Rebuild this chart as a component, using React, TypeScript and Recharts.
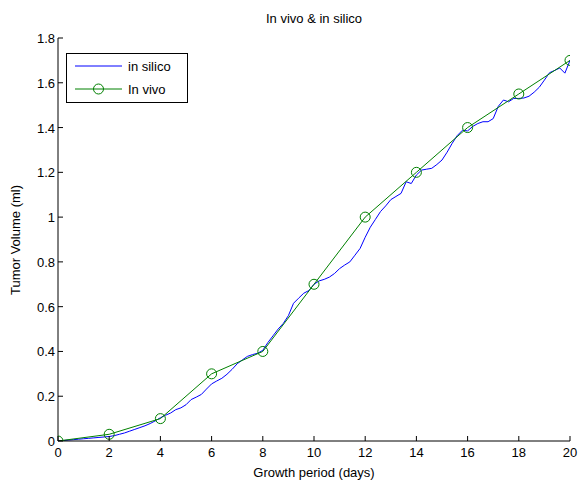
import * as React from "react";
import {
  Line,
  LineChart,
  XAxis,
  YAxis
} from "recharts";

// in silico: simulated volume sampled every 0.2 days
const silicoDays = Array.from({ length: 101 }, (_, i) => Math.round(i * 2) / 10);
const silicoVolume = [
  0.0, 0.002, 0.004, 0.006, 0.008, 0.01, 0.012, 0.014, 0.016, 0.018,
  0.02, 0.024, 0.03, 0.036, 0.044, 0.052, 0.06, 0.068, 0.078, 0.09,
  0.104, 0.115, 0.125, 0.14, 0.148, 0.162, 0.185, 0.196, 0.208, 0.232,
  0.255, 0.268, 0.28, 0.298, 0.32, 0.345, 0.362, 0.378, 0.386, 0.392,
  0.405, 0.44, 0.47, 0.5, 0.525, 0.56, 0.615, 0.638, 0.66, 0.672,
  0.7, 0.715, 0.722, 0.732, 0.748, 0.77, 0.786, 0.8, 0.83, 0.86,
  0.91, 0.955, 0.99, 1.025, 1.05, 1.078, 1.092, 1.106, 1.158, 1.15,
  1.188, 1.21, 1.214, 1.218, 1.235, 1.255, 1.29, 1.33, 1.365, 1.388,
  1.385, 1.405, 1.418, 1.426, 1.426, 1.44, 1.495, 1.523, 1.515, 1.53,
  1.53, 1.532, 1.54, 1.558, 1.58, 1.612, 1.645, 1.655, 1.666, 1.643,
  1.7
];

// in vivo: measured volume
const vivoDays = [0, 2, 4, 6, 8, 10, 12, 14, 16, 18, 20];
const vivoVolume = [0, 0.03, 0.1, 0.3, 0.4, 0.7, 1.0, 1.2, 1.4, 1.55, 1.7];

const xTicks = [0, 2, 4, 6, 8, 10, 12, 14, 16, 18, 20];
const yTicks = [0, 0.2, 0.4, 0.6, 0.8, 1, 1.2, 1.4, 1.6, 1.8];

const silicoData = silicoDays.map((d, i) => ({ day: d, silico: silicoVolume[i] }));
const vivoData = vivoDays.map((d, i) => ({ day: d, vivo: vivoVolume[i] }));

const FONT = "'Liberation Sans', Arial, Helvetica, sans-serif";
const BLUE = "#0000ff";
const GREEN = "#008000";

function BottomTick(props: any) {
  const { x, y, payload } = props;
  return (
    <g>
      <line x1={x} y1={y} x2={x} y2={y - 5} stroke="#000" />
      <text x={x} y={y + 16} textAnchor="middle" fontSize={13} fontFamily={FONT} fill="#000">
        {payload.value}
      </text>
    </g>
  );
}

function TopTick(props: any) {
  const { x, y } = props;
  return <line x1={x} y1={y} x2={x} y2={y + 5} stroke="#000" />;
}

function LeftTick(props: any) {
  const { x, y, payload } = props;
  return (
    <g>
      <line x1={x} y1={y} x2={x + 5} y2={y} stroke="#000" />
      <text x={x - 3} y={y + 5} textAnchor="end" fontSize={13} fontFamily={FONT} fill="#000">
        {payload.value}
      </text>
    </g>
  );
}

function RightTick(props: any) {
  const { x, y } = props;
  return <line x1={x} y1={y} x2={x - 5} y2={y} stroke="#000" />;
}

function LegendBox() {
  return (
    <svg width={122} height={50} style={{ display: "block" }}>
      <rect x={0.5} y={0.5} width={121} height={49} fill="#fff" stroke="#000" />
      <line x1={9} y1={13} x2={56} y2={13} stroke={BLUE} />
      <text x={62} y={18} fontSize={13} fontFamily={FONT} fill="#000">in silico</text>
      <line x1={9} y1={36} x2={56} y2={36} stroke={GREEN} />
      <circle cx={32.5} cy={36} r={5} fill="none" stroke={GREEN} />
      <text x={62} y={41} fontSize={13} fontFamily={FONT} fill="#000">In vivo</text>
    </svg>
  );
}

export default function App() {
  return (
    <div style={{ position: "absolute", left: 0, top: 0, width: 578, height: 482, background: "#fff" }}>
      <LineChart
        width={578}
        height={482}
        margin={{ top: 38, right: 8, bottom: 0, left: 0 }}
      >
        <XAxis
          xAxisId="bottom"
          dataKey="day"
          type="number"
          domain={[0, 20]}
          ticks={xTicks}
          interval={0}
          allowDataOverflow
          height={41}
          tickSize={0}
          tickMargin={0}
          axisLine={{ stroke: "#000" }}
          tick={<BottomTick />}
        />
        <XAxis
          xAxisId="top"
          orientation="top"
          dataKey="day"
          type="number"
          domain={[0, 20]}
          ticks={xTicks}
          interval={0}
          height={0}
          tickSize={0}
          tickMargin={0}
          axisLine={{ stroke: "#000" }}
          tick={<TopTick />}
        />
        <YAxis
          yAxisId="left"
          type="number"
          domain={[0, 1.8]}
          ticks={yTicks}
          interval={0}
          allowDataOverflow
          width={58}
          tickSize={0}
          tickMargin={0}
          axisLine={{ stroke: "#000" }}
          tick={<LeftTick />}
        />
        <YAxis
          yAxisId="right"
          orientation="right"
          type="number"
          domain={[0, 1.8]}
          ticks={yTicks}
          interval={0}
          width={0}
          tickSize={0}
          tickMargin={0}
          axisLine={{ stroke: "#000" }}
          tick={<RightTick />}
        />
        <Line
          xAxisId="bottom"
          yAxisId="left"
          data={silicoData}
          dataKey="silico"
          stroke={BLUE}
          strokeWidth={1}
          dot={false}
          isAnimationActive={false}
        />
        <Line
          xAxisId="bottom"
          yAxisId="left"
          data={vivoData}
          dataKey="vivo"
          stroke={GREEN}
          strokeWidth={1}
          dot={{ r: 5, fill: "none", stroke: GREEN, strokeWidth: 1 }}
          isAnimationActive={false}
        />
      </LineChart>
      <div style={{ position: "absolute", left: 66, top: 53 }}>
        <LegendBox />
      </div>
      <div style={{ position: "absolute", left: 58, width: 512, top: 11, textAlign: "center", fontFamily: FONT, fontSize: 13 }}>
        In vivo &amp; in silico
      </div>
      <div style={{ position: "absolute", left: 58, width: 512, top: 465, textAlign: "center", fontFamily: FONT, fontSize: 13 }}>
        Growth period (days)
      </div>
      <div
        style={{
          position: "absolute",
          left: 15,
          top: 240,
          transform: "translate(-50%, -50%) rotate(-90deg)",
          whiteSpace: "nowrap",
          fontFamily: FONT,
          fontSize: 13
        }}
      >
        Tumor Volume (ml)
      </div>
    </div>
  );
}
